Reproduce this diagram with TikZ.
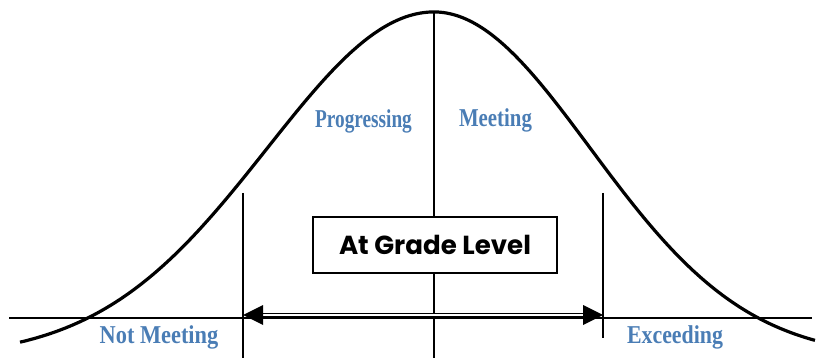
\documentclass[tikz,border=0pt]{standalone}
\usepackage{fontspec}
\usetikzlibrary{arrows.meta}
\setmainfont{Liberation Serif}
\newfontfamily\gothic{Poppins}
\definecolor{lblblue}{HTML}{4A7DB5}
\begin{document}
\begin{tikzpicture}[x=1pt,y=-1pt,
  axis/.style={line width=1.5pt,black},
  curve/.style={line width=3.2pt,black},
  lbl/.style={text=lblblue,anchor=base,inner sep=0pt,font=\fontsize{25.7}{30}\selectfont\bfseries},
  gradebox/.style={draw=black,line width=2pt,fill=white,minimum width=244pt,minimum height=56pt,inner sep=0pt,font=\gothic\fontsize{21}{25}\selectfont\bfseries}]
\useasboundingbox (0,0) rectangle (817,358);
% axis
\coordinate (axL) at (9,318);
\coordinate (axR) at (812,318);
\draw[axis] (axL) -- (axR);
% curve (slightly asymmetric bell)
\draw[curve] plot[domain=-4.14:0,samples=120,smooth] ({434+100*\x},{358-346*exp(-0.18*\x*\x)})
  -- plot[domain=0:3.81,samples=120,smooth] ({434+100*\x},{358-346*exp(-0.205*\x*\x)});
% vertical lines
\coordinate (cTop) at (434,12);
\coordinate (cBot) at (434,358);
\coordinate (lTop) at (243,193);
\coordinate (lBot) at (243,358);
\coordinate (rTop) at (603,193);
\coordinate (rBot) at (603,338);
\draw[axis] (cTop) -- (cBot);
\draw[axis] (lTop) -- (lBot);
\draw[axis] (rTop) -- (rBot);
% double arrow
\coordinate (aL) at (243,315);
\coordinate (aR) at (603,315);
\draw[line width=1.4pt,double=white,double distance=2.2pt,
  {Triangle[length=20pt,width=20pt,line width=0pt]}-{Triangle[length=20pt,width=20pt,line width=0pt]}] (aL) -- (aR);
% box
\node[gradebox] (grade) at (435,245) {\resizebox{192pt}{!}{At Grade Level}};
% labels
\node[lbl] (prog) at (363.5,128) {\scalebox{0.75}[1]{Progressing}};
\node[lbl] (meet) at (495.5,127) {\scalebox{0.81}[1]{Meeting}};
\node[lbl] (notm) at (159,343) {\scalebox{0.87}[1]{Not Meeting}};
\node[lbl] (exc) at (675,343) {\scalebox{0.85}[1]{Exceeding}};
\end{tikzpicture}
\end{document}
